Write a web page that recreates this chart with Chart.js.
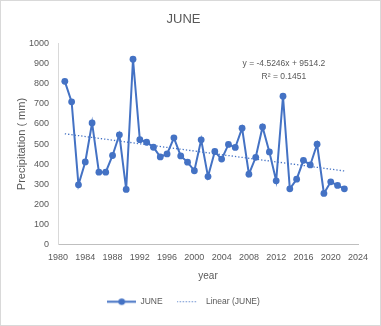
<!DOCTYPE html>
<html>
<head>
<meta charset="utf-8">
<script src="https://cdn.jsdelivr.net/npm/chart.js@4"></script>
<style>
  html, body { margin: 0; padding: 0; background: #ffffff; }
  #wrap { position: relative; width: 381px; height: 326px; }
  #frame { position: absolute; left: 0; top: 0; width: 381px; height: 326px; box-sizing: border-box; border: 1px solid #d9d9d9; pointer-events: none; }
</style>
</head>
<body>
<div id="wrap">
  <canvas id="c"></canvas>
  <div id="frame"></div>
</div>
<script>
// ---- data ----
const years = [1981, 1982, 1983, 1984, 1985, 1986, 1987, 1988, 1989, 1990,
               1991, 1992, 1993, 1994, 1995, 1996, 1997, 1998, 1999, 2000,
               2001, 2002, 2003, 2004, 2005, 2006, 2007, 2008, 2009, 2010,
               2011, 2012, 2013, 2014, 2015, 2016, 2017, 2018, 2019, 2020,
               2021, 2022];
const juneValues = [812, 710, 297, 411, 605, 360, 360, 443, 546, 274,
                    922, 522, 509, 484, 436, 451, 531, 441, 410, 367,
                    521, 338, 463, 425, 498, 483, 579, 350, 434, 585,
                    461, 317, 738, 277, 325, 419, 396, 499, 254, 312,
                    294, 277];
const trendYears = [1981, 2022];
const trendValues = [551, 366];
const equationLines = ['y = -4.5246x + 9514.2', 'R\u00B2 = 0.1451'];
const seriesNames = ['JUNE', 'Linear (JUNE)'];
const xTitle = 'year';
const yTitle = 'Precipitation ( mm)';
const chartTitle = 'JUNE';

// ---- styles ----
const BLUE = '#4472C4';
const TEXT = '#595959';
const FONT = "'Liberation Sans', 'DejaVu Sans', sans-serif";

function legendLineMarker() {
  const c = document.createElement('canvas');
  c.width = 29; c.height = 9;
  const g = c.getContext('2d');
  g.strokeStyle = BLUE; g.lineWidth = 2;
  g.beginPath(); g.moveTo(0, 4.5); g.lineTo(29, 4.5); g.stroke();
  g.fillStyle = BLUE;
  g.beginPath(); g.arc(14.5, 4.5, 3.3, 0, Math.PI * 2); g.fill();
  return c;
}
function legendDotted() {
  const c = document.createElement('canvas');
  c.width = 21; c.height = 9;
  const g = c.getContext('2d');
  g.strokeStyle = BLUE; g.lineWidth = 1.2;
  g.setLineDash([1.2, 1.8]);
  g.beginPath(); g.moveTo(0, 4.5); g.lineTo(21, 4.5); g.stroke();
  return c;
}
const legendImgs = [legendLineMarker(), legendDotted()];

const equationPlugin = {
  id: 'equation',
  afterDatasetsDraw(chart) {
    const {ctx, chartArea} = chart;
    const x = chartArea.left + (chartArea.right - chartArea.left) * 0.753;
    const y0 = chartArea.top + (chartArea.bottom - chartArea.top) * 0.10;
    ctx.save();
    ctx.font = '8.5px ' + FONT;
    ctx.fillStyle = TEXT;
    ctx.textAlign = 'center';
    ctx.textBaseline = 'middle';
    equationLines.forEach((t, i) => ctx.fillText(t, x, y0 + i * 13));
    ctx.restore();
  }
};

new Chart(document.getElementById('c'), {
  type: 'line',
  data: {
    datasets: [
      {
        label: seriesNames[0],
        data: years.map((yr, i) => ({x: yr, y: juneValues[i]})),
        borderColor: BLUE,
        backgroundColor: BLUE,
        borderWidth: 2,
        pointRadius: 3.4,
        pointBackgroundColor: BLUE,
        pointBorderWidth: 0,
        tension: 0
      },
      {
        label: seriesNames[1],
        data: trendYears.map((yr, i) => ({x: yr, y: trendValues[i]})),
        borderColor: BLUE,
        backgroundColor: BLUE,
        borderWidth: 1.3,
        borderDash: [1.3, 2],
        pointRadius: 0,
        tension: 0
      }
    ]
  },
  options: {
    responsive: true,
    maintainAspectRatio: false,
    animation: false,
    layout: { padding: { left: 9, right: 23, top: 0, bottom: 10 } },
    scales: {
      x: {
        type: 'linear',
        min: 1980, max: 2024,
        ticks: { stepSize: 4, color: TEXT, font: { size: 9, family: FONT }, padding: 8, maxRotation: 0, callback: v => String(v) },
        grid: { display: false, drawTicks: false },
        border: { color: '#bfbfbf', width: 1 },
        title: { display: true, text: xTitle, color: TEXT, font: { size: 10, family: FONT }, padding: { top: 0, bottom: 5 } },
        afterFit: s => { s.height = 43; }
      },
      y: {
        min: 0, max: 1000,
        ticks: { stepSize: 100, color: TEXT, font: { size: 9, family: FONT }, padding: 9, callback: v => String(v) },
        grid: { display: false, drawTicks: false },
        border: { color: '#d9d9d9', width: 1 },
        title: { display: true, text: yTitle, color: TEXT, font: { size: 11, family: FONT }, padding: { top: 6, bottom: 0 } },
        afterFit: s => { s.width = 49; }
      }
    },
    plugins: {
      title: {
        display: true, text: chartTitle, color: TEXT,
        font: { size: 13, family: FONT, weight: 'normal' },
        padding: { top: 12, bottom: 16 }
      },
      legend: {
        position: 'bottom',
        labels: {
          usePointStyle: true,
          pointStyleWidth: 29,
          color: TEXT,
          font: { size: 8.5, family: FONT },
          padding: 10,
          generateLabels: chart => Chart.defaults.plugins.legend.labels.generateLabels(chart)
            .map((l, i) => Object.assign({}, l, { pointStyle: legendImgs[i], fontColor: TEXT }))
        }
      },
      tooltip: { enabled: false }
    }
  },
  plugins: [equationPlugin]
});
</script>
</body>
</html>
